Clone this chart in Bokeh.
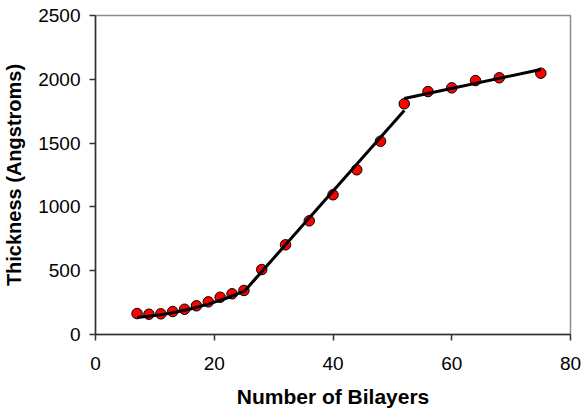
from bokeh.plotting import figure
from bokeh.models import Range1d, FixedTicker
from bokeh.embed import file_html
from bokeh.resources import INLINE

# data
bilayers = [7, 9, 11, 13, 15, 17, 19, 21, 23, 25, 28, 32, 36, 40, 44, 48, 52, 56, 60, 64, 68, 75]
thickness = [164, 159, 162, 180, 198, 225, 256, 292, 319, 345, 509, 703, 891, 1095, 1291, 1515,
             1808, 1904, 1933, 1990, 2012, 2048]

# trend segments
fit1_x = [7, 10, 13, 16, 19, 22, 25]
fit1_y = [133, 148, 170, 200, 238, 284, 338]
fit2_x = [25, 52]
fit2_y = [335, 1755]
fit3_x = [52, 75]
fit3_y = [1850, 2077]

x_ticks = [0, 20, 40, 60, 80]
y_ticks = [0, 500, 1000, 1500, 2000, 2500]

FONT = "Liberation Sans"

p = figure(frame_width=475, frame_height=319, output_backend="svg", toolbar_location=None,
           x_range=Range1d(0, 80), y_range=Range1d(0, 2500),
           min_border_left=95, min_border_right=11, min_border_top=15, min_border_bottom=74)
p.background_fill_color = "white"
p.border_fill_color = "white"
p.outline_line_color = "#8c8c8c"
p.outline_line_width = 1.5
p.xgrid.visible = False
p.ygrid.visible = False

for ax in (p.xaxis[0], p.yaxis[0]):
    ax.axis_line_color = "#333333"
    ax.axis_line_width = 1.5
    ax.major_tick_line_color = "#333333"
    ax.major_tick_line_width = 1.5
    ax.major_tick_out = 6
    ax.major_tick_in = 0
    ax.minor_tick_line_color = None
    ax.major_label_text_font = FONT
    ax.major_label_text_font_size = "19px"
    ax.major_label_text_color = "black"
    ax.axis_label_text_font = FONT
    ax.axis_label_text_font_size = "20px"
    ax.axis_label_text_font_style = "bold"
    ax.axis_label_text_color = "black"

p.xaxis.ticker = FixedTicker(ticks=x_ticks)
p.yaxis.ticker = FixedTicker(ticks=y_ticks)
p.xaxis.axis_label = "Number of Bilayers"
p.yaxis.axis_label = "Thickness (Angstroms)"
p.xaxis.axis_label_text_font_size = "21px"
p.xaxis.major_label_standoff = 16
p.yaxis.major_label_standoff = 9
p.xaxis.axis_label_standoff = 12
p.yaxis.axis_label_standoff = 10

p.scatter(bilayers, thickness, size=10.5, fill_color="#ff0000", line_color="black", line_width=1)

for fx, fy in ((fit1_x, fit1_y), (fit2_x, fit2_y), (fit3_x, fit3_y)):
    p.line(fx, fy, line_color="black", line_width=3)

open("out.html", "w").write(file_html(p, INLINE))
